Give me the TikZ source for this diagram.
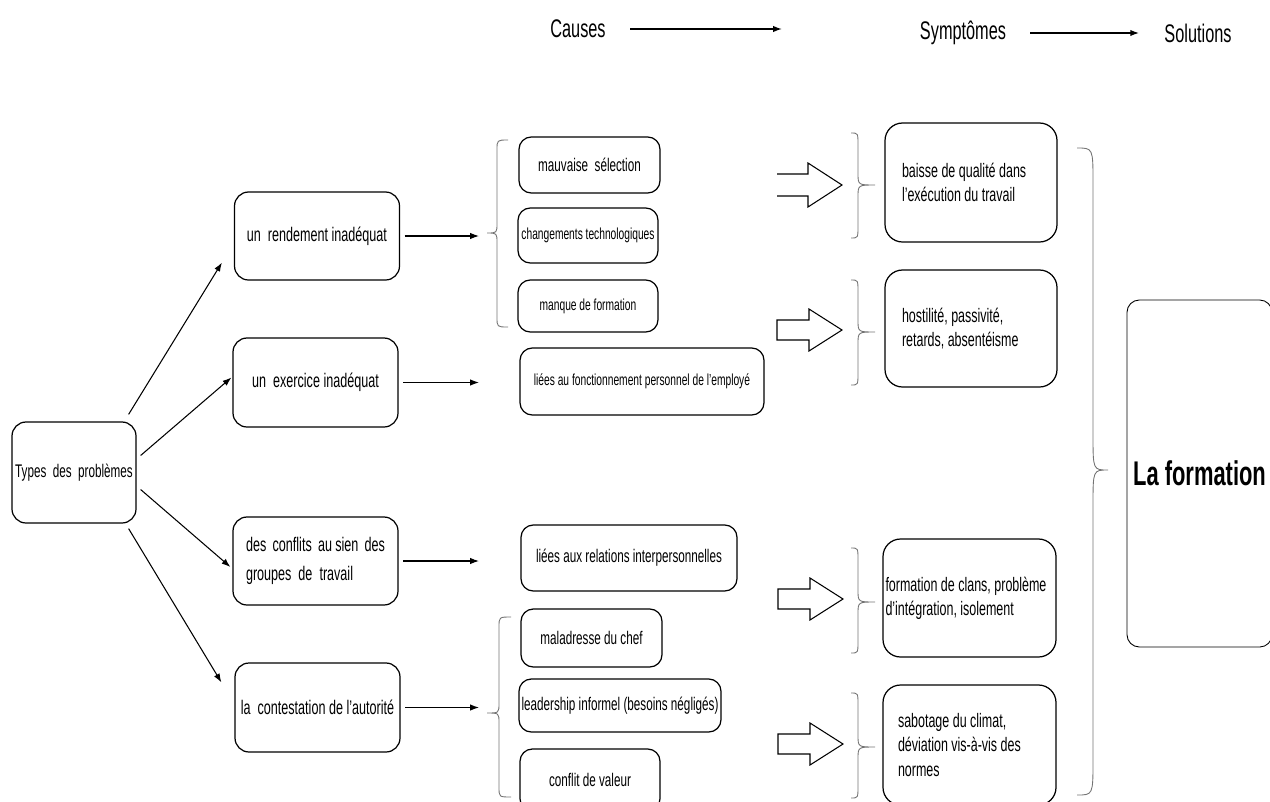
\documentclass[tikz,border=0pt]{standalone}
\usepackage{fontspec}
\setmainfont{Liberation Sans}[FakeStretch=0.64]
\usetikzlibrary{calc,arrows.meta}
\tikzset{>={Latex[length=5pt,width=3.6pt]}}
\tikzset{
  box/.style={draw,rounded corners=8pt,line width=0.7pt,inner sep=0pt,align=center},
  boxwh/.style 2 args={minimum width=#1*0.02cm,minimum height=#2*0.02cm},
  kind/.style={box,font=\fontsize{11.2}{16.4}\selectfont},
  cause/.style={box,rounded corners=7pt,font=\fontsize{10.4}{12}\selectfont},
  smallcause/.style={cause,font=\fontsize{9.1}{11}\selectfont},
  symp/.style={box,rounded corners=10pt,align=left,font=\fontsize{11.1}{13.8}\selectfont,
    execute at begin node={\spaceskip=0pt\xspaceskip=0pt}},
  head/.style={inner sep=0pt,font=\fontsize{14.5}{16}\selectfont},
  curl/.style={black!55,line width=0.5pt},
  fat/.style={line width=0.6pt},
  link/.style={->,line width=0.6pt}
}
% brace: ends, spine, tip, top, middle, bottom, bend
\newcommand{\curly}[7]{%
  \draw[curl] (#1,#4) .. controls (#2,#4) .. (#2,#4+#7) -- (#2,#5-#7)
    .. controls (#2,#5) .. (#3,#5) .. controls (#2,#5) .. (#2,#5+#7)
    -- (#2,#6-#7) .. controls (#2,#6) .. (#1,#6);}
\newcommand{\fatarrow}[2]{%
  \draw[fat] (#1,#2-10) -- ++(32,0) -- ++(0,-11) -- ++(33,21) -- ++(-33,21)
    -- ++(0,-11) -- ++(-32,0) -- cycle;}

\begin{document}
\begin{tikzpicture}[x=0.02cm,y=-0.02cm]
  \useasboundingbox (0,0) rectangle (1270,801);
  \clip (0,0) rectangle (1270,801);
  % headings
  \node[head] (hcause) at (578,29) {Causes};
  \node[head] (hsymp) at (963,33) {Symptômes};
  \node[head] (hsol) at (1198,33) {Solutions};
  \coordinate (hend) at (782,29);
  \draw[link,line width=0.8pt] ($(hcause.east)+(24,0)$) -- (hend);
  \draw[link,line width=0.8pt] ($(hsymp.east)+(24,0)$) -- ($(hsol.west)+(-25,0)$);
  % problem types
  \node[kind,boxwh={124}{101},font=\fontsize{10.4}{12}\selectfont] (types) at (74,472.5) {Types~ des~ problèmes};
  \node[kind,boxwh={165}{88}] (rend) at (317,236) {un~ rendement inadéquat};
  \node[kind,boxwh={165}{89}] (exer) at (315.5,382.5) {un~ exercice inadéquat};
  \node[kind,boxwh={165}{88},text width=139*0.02cm,align=justify] (conf) at (315.5,561)
    {des~ conflits~ au sien~ des\linebreak groupes~ de~ travail};
  \node[kind,boxwh={165}{89}] (cont) at (317.5,707.5) {la~ contestation de l'autorité};
  \draw[link] ($(types.north east)+(-8,-7)$) -- ($(rend.south west)+(-12,-18)$);
  \draw[link] ($(types.east)+(4,-17)$) -- ($(exer.west)+(-1,-5)$);
  \draw[link] ($(types.east)+(4,17)$) -- ($(conf.west)+(-2,6)$);
  \draw[link] ($(types.south east)+(-8,5)$) -- ($(cont.north west)+(-13,20)$);
  \coordinate (cx) at (479,0);
  \foreach \k in {rend,exer,conf,cont}
    \draw[link,shorten <=2.5pt] (\k.east) -- (\k.east -| cx);
  % causes
  \node[cause,boxwh={141}{56}] (selec) at (589.5,165) {mauvaise~ sélection};
  \node[smallcause,boxwh={140}{55}] (techno) at (588,235.5) {changements technologiques};
  \node[smallcause,boxwh={140}{52}] (manque) at (588,306) {manque de formation};
  \node[smallcause,boxwh={244}{67}] (fonct) at (642,381.5) {liées au fonctionnement personnel de l'employé};
  \node[cause,boxwh={216}{66}] (relat) at (629,558) {liées aux relations interpersonnelles};
  \node[cause,boxwh={141}{58}] (maladr) at (591.5,638) {maladresse du chef};
  \node[cause,boxwh={202}{53}] (leader) at (620,705.5) {leadership informel (besoins négligés)};
  \node[cause,boxwh={140}{62}] (valeur) at (590,780) {conflit de valeur};
  \curly{508}{497}{487}{140}{233}{327}{10}
  \curly{511}{499}{487}{617}{713}{797}{10}
  % towards the symptoms
  \draw[fat] (777,174) -- ++(31,0) -- ++(0,-11) -- ++(34,22) -- ++(-34,22) -- ++(0,-11) -- ++(-31,0);
  \fatarrow{777}{330}
  \fatarrow{778}{599}
  \fatarrow{778}{744}
  \curly{851}{858}{875}{133}{185}{238}{12}
  \curly{851}{858}{875}{280}{332}{385}{12}
  \curly{851}{858}{875}{548}{602}{653}{12}
  \curly{851}{858}{875}{693}{747}{798}{12}
  % symptoms
  \node[symp,boxwh={172}{119},text width=138*0.02cm] (qualite) at (971,182.5)
    {baisse de qualité dans\\l'exécution du travail};
  \node[symp,boxwh={172}{117},text width=138*0.02cm] (hostil) at (971,328.5)
    {hostilité, passivité,\\retards, absentéisme};
  \node[symp,boxwh={173}{118},text width=168*0.02cm] (clans) at (969.5,598)
    {formation de clans, problème\\d'intégration, isolement};
  \node[symp,boxwh={173}{120},text width=143*0.02cm] (sabot) at (969.5,745)
    {sabotage du climat,\\déviation vis-à-vis des\\normes};
  % solution
  \curly{1077}{1093}{1108}{148}{470}{795}{35}
  \node[box,boxwh={145}{347},rounded corners=7pt,line width=0.5pt,
    font=\bfseries\fontsize{19.5}{22}\selectfont] (formation) at (1199.5,473.5) {La formation};
\end{tikzpicture}
\end{document}
